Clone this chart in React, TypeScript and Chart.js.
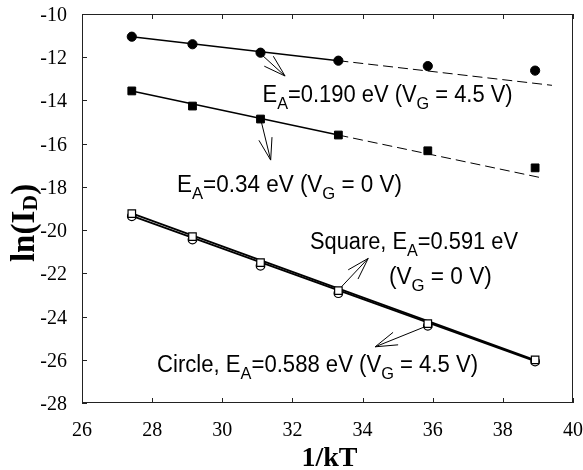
import React, { useEffect, useRef } from 'react';
import { Chart, registerables } from 'chart.js';

Chart.register(...registerables);

// ---- data ----
const X_TICKS = [26, 28, 30, 32, 34, 36, 38, 40];
const Y_TICKS = [-28, -26, -24, -22, -20, -18, -16, -14, -12, -10];

const INV_KT = [27.42, 29.15, 31.09, 33.31, 35.86, 38.92];
const CIRCLE_VG45_HIGH = [-11.05, -11.4, -11.79, -12.16, -12.41, -12.62];
const SQUARE_VG0_HIGH = [-13.56, -14.26, -14.86, -15.6, -16.33, -17.12];
const SQUARE_VG0_LOW = [-19.24, -20.3, -21.5, -22.8, -24.33, -26.0];
const CIRCLE_VG45_LOW = [-19.36, -20.44, -21.65, -22.92, -24.43, -26.08];

// fitted lines (endpoints)
const FIT_HIGH_CIRCLE_SOLID_X = [27.42, 33.31];
const FIT_HIGH_CIRCLE_SOLID_Y = [-11.05, -12.16];
const FIT_HIGH_CIRCLE_DASH_X = [33.31, 39.4];
const FIT_HIGH_CIRCLE_DASH_Y = [-12.16, -13.3];
const FIT_HIGH_SQUARE_SOLID_X = [27.42, 33.31];
const FIT_HIGH_SQUARE_SOLID_Y = [-13.56, -15.6];
const FIT_HIGH_SQUARE_DASH_X = [33.31, 39.1];
const FIT_HIGH_SQUARE_DASH_Y = [-15.6, -17.58];
const FIT_LOW_SQUARE_X = [27.42, 38.92];
const FIT_LOW_SQUARE_Y = [-19.23, -26.02];
const FIT_LOW_CIRCLE_X = [27.42, 38.92];
const FIT_LOW_CIRCLE_Y = [-19.34, -26.06];

const pts = (xs: number[], ys: number[]) => xs.map((x, i) => ({ x, y: ys[i] }));

type Seg = [string, number?];
const LABELS: { x: number; y: number; w: number; segs: Seg[] }[] = [
  { x: 31.15, y: -14.06, w: 250, segs: [['E'], ['A', 1], ['=0.190 eV ('], ['V'], ['G', 1], [' = 4.5 V)']] },
  { x: 28.71, y: -18.22, w: 225, segs: [['E'], ['A', 1], ['=0.34 eV ('], ['V'], ['G', 1], [' = 0 V)']] },
  { x: 32.5, y: -20.88, w: 208, segs: [['Square, E'], ['A', 1], ['=0.591 eV']] },
  { x: 34.75, y: -22.48, w: 103, segs: [['('], ['V'], ['G', 1], [' = 0 V)']] },
  { x: 28.14, y: -26.56, w: 321, segs: [['Circle, E'], ['A', 1], ['=0.588 eV ('], ['V'], ['G', 1], [' = 4.5 V)']] },
];

const ARROWS = [
  { x1: 31.08, y1: -11.82, x2: 31.79, y2: -12.87 },
  { x1: 31.1, y1: -14.9, x2: 31.38, y2: -16.76 },
  { x1: 33.4, y1: -22.62, x2: 34.16, y2: -21.31 },
  { x1: 35.78, y1: -24.47, x2: 34.36, y2: -25.4 },
];

const SERIF = '"Liberation Serif", "Times New Roman", serif';
const SANS = '"Liberation Sans", Arial, sans-serif';

function drawRich(ctx: CanvasRenderingContext2D, x: number, y: number, segs: Seg[], size: number, targetW: number) {
  const sub = size * 0.74;
  let w = 0;
  const widths: number[] = [];
  segs.forEach(([t, s]) => {
    ctx.font = `${s ? sub : size}px ${SANS}`;
    const m = ctx.measureText(t).width;
    widths.push(m);
    w += m;
  });
  const sx = targetW / w;
  ctx.save();
  ctx.translate(x, y);
  ctx.scale(sx, 1);
  ctx.fillStyle = '#000';
  ctx.textBaseline = 'alphabetic';
  ctx.textAlign = 'left';
  let cx = 0;
  segs.forEach(([t, s], i) => {
    ctx.font = `${s ? sub : size}px ${SANS}`;
    ctx.fillText(t, cx, s ? size * 0.3 : 0);
    cx += widths[i];
  });
  ctx.restore();
}

function drawArrow(ctx: CanvasRenderingContext2D, x1: number, y1: number, x2: number, y2: number) {
  const len = 23;
  const a = (17 * Math.PI) / 180;
  const ang = Math.atan2(y1 - y2, x1 - x2);
  ctx.beginPath();
  ctx.moveTo(x1, y1);
  ctx.lineTo(x2, y2);
  ctx.moveTo(x2 + len * Math.cos(ang + a), y2 + len * Math.sin(ang + a));
  ctx.lineTo(x2, y2);
  ctx.lineTo(x2 + len * Math.cos(ang - a), y2 + len * Math.sin(ang - a));
  ctx.stroke();
}

const framePlugin = {
  id: 'frame',
  afterDatasetsDraw(chart: any) {
    const { ctx, chartArea: ca, scales } = chart;
    const xs = scales.x;
    const ys = scales.y;
    ctx.save();
    ctx.strokeStyle = '#222';
    ctx.lineWidth = 1;
    ctx.strokeRect(ca.left + 0.5, ca.top + 0.5, ca.right - ca.left - 1, ca.bottom - ca.top - 1);
    ctx.beginPath();
    xs.ticks.forEach((t: any) => {
      const px = Math.round(xs.getPixelForValue(t.value)) + 0.5;
      ctx.moveTo(px, ca.top);
      ctx.lineTo(px, ca.top + 5);
      ctx.moveTo(px, ca.bottom);
      ctx.lineTo(px, ca.bottom - 5);
    });
    ys.ticks.forEach((t: any) => {
      const py = Math.round(ys.getPixelForValue(t.value)) + 0.5;
      ctx.moveTo(ca.left, py);
      ctx.lineTo(ca.left + 5, py);
    });
    ctx.stroke();

    // tick labels (serif) taken from the scales' ticks
    ctx.fillStyle = '#000';
    ctx.font = `20px ${SERIF}`;
    ctx.textAlign = 'center';
    ctx.textBaseline = 'alphabetic';
    xs.ticks.forEach((t: any) => {
      ctx.fillText(String(t.value), xs.getPixelForValue(t.value), ca.bottom + 33);
    });
    ctx.textAlign = 'right';
    ys.ticks.forEach((t: any) => {
      ctx.fillText(String(t.value), ca.left - 15, ys.getPixelForValue(t.value) + 7);
    });

    // arrows
    ctx.strokeStyle = '#000';
    ctx.lineWidth = 1;
    ARROWS.forEach((a) => {
      drawArrow(ctx, xs.getPixelForValue(a.x1), ys.getPixelForValue(a.y1), xs.getPixelForValue(a.x2), ys.getPixelForValue(a.y2));
    });
    // labels
    LABELS.forEach((l) => {
      drawRich(ctx, xs.getPixelForValue(l.x), ys.getPixelForValue(l.y), l.segs, 23, l.w);
    });

    // axis titles
    ctx.fillStyle = '#000';
    ctx.font = `bold 28px ${SERIF}`;
    ctx.textAlign = 'center';
    ctx.textBaseline = 'alphabetic';
    ctx.fillText('1/kT', (ca.left + ca.right) / 2 + 2, 466);

    // y title with subscript, rotated
    const big = 33;
    const sm = 22;
    ctx.font = `bold ${big}px ${SERIF}`;
    const w1 = ctx.measureText('ln(I').width;
    const w3 = ctx.measureText(')').width;
    ctx.font = `bold ${sm}px ${SERIF}`;
    const w2 = ctx.measureText('D').width;
    const total = w1 + w2 + w3;
    ctx.save();
    ctx.translate(34, 223);
    ctx.rotate(-Math.PI / 2);
    ctx.textAlign = 'left';
    let cx = -total / 2;
    ctx.font = `bold ${big}px ${SERIF}`;
    ctx.fillText('ln(I', cx, 0);
    cx += w1;
    ctx.font = `bold ${sm}px ${SERIF}`;
    ctx.fillText('D', cx, 3);
    cx += w2;
    ctx.font = `bold ${big}px ${SERIF}`;
    ctx.fillText(')', cx, 0);
    ctx.restore();
    ctx.restore();
  },
};

export default function App() {
  const ref = useRef<HTMLCanvasElement>(null);
  useEffect(() => {
    if (!ref.current) return;
    const lineDs = (xs: number[], ys: number[], width: number, dash: number[] = []) => ({
      type: 'line' as const,
      data: pts(xs, ys),
      showLine: true,
      borderColor: '#000',
      borderWidth: width,
      borderDash: dash,
      pointRadius: 0,
      fill: false,
      order: 10,
    });
    const chart = new Chart(ref.current, {
      type: 'scatter',
      data: {
        datasets: [
          lineDs(FIT_HIGH_CIRCLE_SOLID_X, FIT_HIGH_CIRCLE_SOLID_Y, 1.5),
          lineDs(FIT_HIGH_CIRCLE_DASH_X, FIT_HIGH_CIRCLE_DASH_Y, 1, [10, 5]),
          lineDs(FIT_HIGH_SQUARE_SOLID_X, FIT_HIGH_SQUARE_SOLID_Y, 1.5),
          lineDs(FIT_HIGH_SQUARE_DASH_X, FIT_HIGH_SQUARE_DASH_Y, 1, [10, 5]),
          lineDs(FIT_LOW_SQUARE_X, FIT_LOW_SQUARE_Y, 1.8),
          lineDs(FIT_LOW_CIRCLE_X, FIT_LOW_CIRCLE_Y, 1.8),
          {
            data: pts(INV_KT, CIRCLE_VG45_HIGH),
            pointStyle: 'circle',
            pointRadius: 4.6,
            backgroundColor: '#000',
            borderColor: '#000',
            borderWidth: 1,
            order: 3,
          },
          {
            data: pts(INV_KT, SQUARE_VG0_HIGH),
            pointStyle: 'rect',
            pointRadius: 5.5,
            backgroundColor: '#000',
            borderColor: '#000',
            borderWidth: 1,
            order: 3,
          },
          {
            data: pts(INV_KT, CIRCLE_VG45_LOW),
            pointStyle: 'circle',
            pointRadius: 4.3,
            backgroundColor: '#fff',
            borderColor: '#000',
            borderWidth: 1.2,
            order: 5,
          },
          {
            data: pts(INV_KT, SQUARE_VG0_LOW),
            pointStyle: 'rect',
            pointRadius: 5.3,
            backgroundColor: '#fff',
            borderColor: '#000',
            borderWidth: 1.2,
            order: 1,
          },
        ] as any,
      },
      options: {
        animation: false,
        responsive: false,
        layout: { padding: { top: 14, right: 10, left: 0, bottom: 0 } },
        plugins: { legend: { display: false }, tooltip: { enabled: false } },
        scales: {
          x: {
            type: 'linear',
            min: 26,
            max: 40,
            afterBuildTicks: (s: any) => {
              s.ticks = X_TICKS.map((v) => ({ value: v }));
            },
            afterFit: (s: any) => {
              s.height = 67;
            },
            grid: { display: false, drawTicks: false },
            border: { display: false },
            ticks: { display: false },
          },
          y: {
            type: 'linear',
            min: -28,
            max: -10,
            afterBuildTicks: (s: any) => {
              s.ticks = Y_TICKS.map((v) => ({ value: v }));
            },
            afterFit: (s: any) => {
              s.width = 82;
            },
            grid: { display: false, drawTicks: false },
            border: { display: false },
            ticks: { display: false },
          },
        },
      },
      plugins: [framePlugin],
    });
    return () => chart.destroy();
  }, []);
  return (
    <div style={{ position: 'fixed', left: 0, top: 0, width: 583, height: 470, background: '#fff' }}>
      <canvas ref={ref} width={583} height={470} style={{ width: 583, height: 470, display: 'block' }} />
    </div>
  );
}
